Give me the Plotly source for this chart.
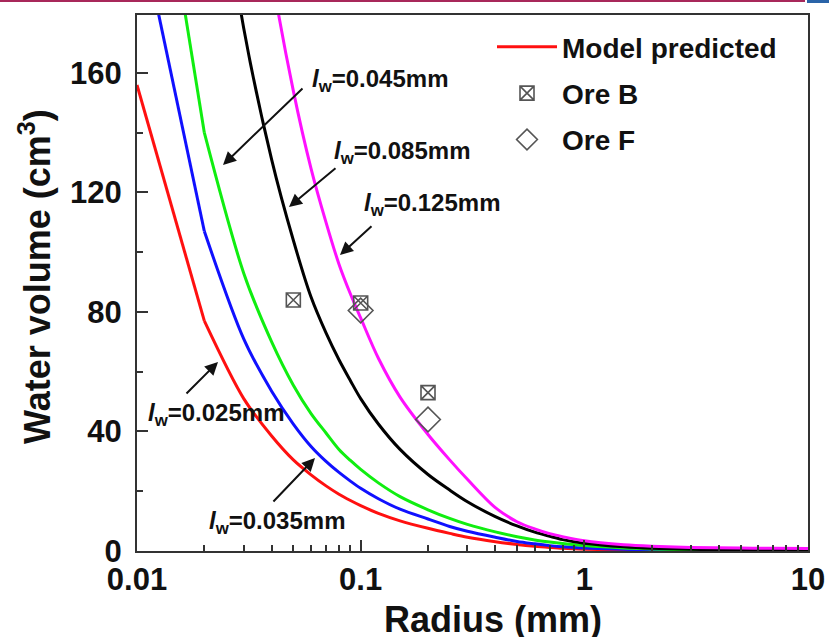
import plotly.graph_objects as go

# ---------------- data ----------------
radius = [0.01, 0.02, 0.03, 0.04, 0.05, 0.06, 0.07, 0.08, 0.09, 0.1, 0.12, 0.15,
          0.2, 0.25, 0.3, 0.4, 0.5, 0.6, 0.7, 0.8, 1, 1.5, 2, 3, 5, 7, 10]
vol_025 = [156, 77, 51, 38.5, 30.5, 25.5, 21.8, 19, 16.9, 15.2, 12.6, 10.1,
           7.6, 5.9, 4.6, 3.1, 2.2, 1.6, 1.2, 0.9, 0.6, 0.35, 0.25, 0.15, 0.1, 0.07, 0.05]
vol_035 = [214, 107, 71, 53.5, 42.5, 35, 30, 26.3, 23.4, 21, 17.5, 14,
           10.7, 8.2, 6.6, 4.6, 3.2, 2.4, 1.8, 1.4, 1.0, 0.55, 0.4, 0.25, 0.15, 0.1, 0.08]
vol_045 = [280, 140, 93, 70, 55.5, 46, 39.5, 34, 30.3, 27.3, 22.8, 18.2,
           13.8, 10.9, 8.9, 6.4, 4.8, 3.7, 3.0, 2.5, 1.8, 1.0, 0.7, 0.4, 0.25, 0.18, 0.12]
vol_085 = [510, 262, 175, 131, 104, 85, 73, 64, 57, 51, 42.5, 34,
           25.6, 20.4, 16.5, 11.5, 8.4, 6.3, 4.9, 3.8, 2.6, 1.4, 0.9, 0.55, 0.35, 0.25, 0.2]
vol_125 = [770, 385, 257, 193, 154, 128, 110, 96, 86, 78, 64.5, 51.5,
           39, 30.5, 24, 14.5, 9.8, 7.4, 5.8, 4.8, 3.4, 2.1, 1.6, 1.2, 1.0, 0.9, 0.8]

ore_b_r = [0.05, 0.1, 0.2]
ore_b_v = [84, 83, 53]
ore_f_r = [0.1, 0.2]
ore_f_v = [80.5, 44]

x_tickvals = [0.01, 0.1, 1, 10]
x_ticktext = ["0.01", "0.1", "1", "10"]
y_tickvals = [0, 40, 80, 120, 160]

curve_labels = ["0.025", "0.035", "0.045", "0.085", "0.125"]
curve_colors = ["#ff1010", "#1010ff", "#10ee10", "#000000", "#ff10ff"]
curve_data = [vol_025, vol_035, vol_045, vol_085, vol_125]

# ---------------- figure ----------------
W, H = 829, 637
ML, MR, MT, MB = 137, 21, 15, 86
PW, PH = W - ML - MR, H - MT - MB

def px(xp):
    return (xp - ML) / PW

def py(yp):
    return (H - MB - yp) / PH

FONT = "Liberation Sans"
fig = go.Figure()

for i, (lab, col, vals) in enumerate(zip(curve_labels, curve_colors, curve_data)):
    # straight first segment (coarse sampling visible in the original), smooth afterwards
    fig.add_trace(go.Scatter(
        x=radius[:2], y=vals[:2], mode="lines",
        line=dict(color=col, width=3),
        name="Model predicted", showlegend=(i == 0),
        legendgroup="g0" if i == 0 else "c%d" % i,
    ))
    fig.add_trace(go.Scatter(
        x=radius[1:], y=vals[1:], mode="lines",
        line=dict(color=col, width=3, shape="spline", smoothing=0.9),
        showlegend=False, legendgroup="g0" if i == 0 else "c%d" % i,
    ))

fig.add_trace(go.Scatter(
    x=ore_b_r, y=ore_b_v, mode="markers", name="Ore B", legendgroup="g1",
    marker=dict(symbol="square-x-open", size=14, color="#555555",
                line=dict(width=1.6, color="#555555")),
))
fig.add_trace(go.Scatter(
    x=ore_f_r, y=ore_f_v, mode="markers", name="Ore F", legendgroup="g2",
    marker=dict(symbol="diamond-open", size=19, color="#555555",
                line=dict(width=1.6, color="#555555")),
))

axis_common = dict(
    showline=True, mirror=True, linecolor="#333333", linewidth=2,
    showgrid=False, zeroline=False, ticks="inside", ticklen=11, tickwidth=2,
    tickcolor="#333333",
)

minor_x = [m * d for d in (0.01, 0.1, 1) for m in range(2, 10)]
fig.update_xaxes(
    type="log", range=[-2, 1], tickvals=x_tickvals, ticktext=x_ticktext,
    tickfont=dict(family=FONT, size=31, color="#111111", weight="bold"),
    minor=dict(tickvals=minor_x, ticks="inside", ticklen=6, tickwidth=2, tickcolor="#333333"),
    **axis_common,
)
fig.update_yaxes(
    range=[0, 179.4], tickvals=y_tickvals,
    tickfont=dict(family=FONT, size=31, color="#111111", weight="bold"),
    ticklabelstandoff=7,
    minor=dict(tickvals=[20, 60, 100, 140], ticks="inside", ticklen=6, tickwidth=2, tickcolor="#333333"),
    **axis_common,
)

title_font = dict(family=FONT, size=36, color="#111111", weight="bold")
annotations = [
    dict(xref="paper", yref="paper", x=px(493), y=py(619), xanchor="center", yanchor="middle",
         text="Radius (mm)", showarrow=False, font=title_font),
    dict(xref="paper", yref="paper", x=px(35), y=py(277), xanchor="center", yanchor="middle",
         text="Water volume (cm<sup>3</sup>)", textangle=-90, showarrow=False, font=title_font),
]

# annotation labels: (label, text left px, text center y px, arrow head px, arrow tail px)
ann_specs = [
    ("0.045", 310, 80, (223, 165), (304, 87)),
    ("0.085", 332, 152, (289, 207), (337, 167)),
    ("0.125", 362, 205, (340, 255), (373, 225)),
    ("0.025", 146, 415, (218, 362), (185, 395)),
    ("0.035", 207, 522, (315, 458), (272, 503)),
]
for lab, tx, ty, head, tail in ann_specs:
    annotations.append(dict(
        xref="paper", yref="paper", x=px(tx), y=py(ty), xanchor="left", yanchor="middle",
        text="<i>l</i><sub>w</sub>=%smm" % lab, showarrow=False,
        font=dict(family=FONT, size=24, color="#111111", weight="bold"),
    ))
    annotations.append(dict(
        xref="paper", yref="paper", x=px(head[0]), y=py(head[1]),
        ax=tail[0] - head[0], ay=tail[1] - head[1], text="",
        showarrow=True, arrowhead=2, arrowsize=1.3, arrowwidth=2, arrowcolor="#111111",
    ))

shapes = [
    dict(type="line", xref="paper", yref="paper", x0=px(0), x1=px(805), y0=py(1), y1=py(1),
         line=dict(color="#a8285a", width=2)),
    dict(type="rect", xref="paper", yref="paper", x0=px(807), x1=px(829), y0=py(0), y1=py(3),
         fillcolor="#2a64a8", line=dict(width=0)),
]

fig.update_layout(
    width=W, height=H,
    margin=dict(l=ML, r=MR, t=MT, b=MB, autoexpand=False),
    plot_bgcolor="white", paper_bgcolor="white",
    font=dict(family=FONT, color="#111111"),
    showlegend=True,
    legend=dict(
        x=px(492), y=py(22), xanchor="left", yanchor="top",
        bgcolor="rgba(0,0,0,0)", borderwidth=0,
        font=dict(family=FONT, size=28, color="#111111", weight="bold"),
        traceorder="grouped", tracegroupgap=7, itemwidth=60,
    ),
    annotations=annotations,
    shapes=shapes,
)

fig.write_html("out.html")
